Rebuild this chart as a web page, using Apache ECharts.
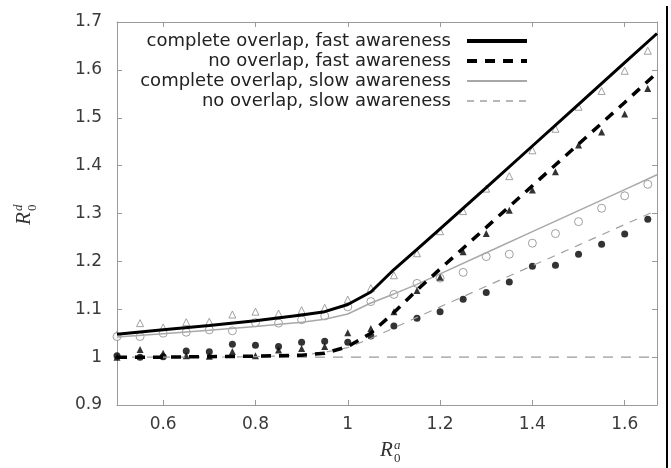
<!DOCTYPE html>
<html>
<head>
<meta charset="utf-8">
<script src="https://cdn.jsdelivr.net/npm/echarts@6/dist/echarts.min.js"></script>
<style>
  html, body { margin: 0; padding: 0; background: #fff; }
  #main { width: 671px; height: 468px; }
</style>
</head>
<body>
<div id="main"></div>
<script>
// simulation points (markers)
var markX = [0.5, 0.55, 0.6, 0.65, 0.7, 0.75, 0.8, 0.85, 0.9, 0.95, 1.0, 1.05,
             1.1, 1.15, 1.2, 1.25, 1.3, 1.35, 1.4, 1.45, 1.5, 1.55, 1.6, 1.65];
var triOpen = [1.047, 1.071, 1.062, 1.073, 1.074, 1.089, 1.095, 1.091, 1.098, 1.103, 1.12, 1.144,
               1.171, 1.217, 1.263, 1.305, 1.352, 1.378, 1.432, 1.477, 1.523, 1.556, 1.598, 1.640];
var circOpen = [1.043, 1.043, 1.050, 1.052, 1.057, 1.055, 1.072, 1.071, 1.078, 1.086, 1.105, 1.116,
                1.131, 1.154, 1.165, 1.177, 1.210, 1.215, 1.238, 1.258, 1.283, 1.311, 1.337, 1.361];
var triFill = [1.0, 1.016, 1.008, 1.003, 1.002, 1.012, 1.003, 1.015, 1.018, 1.022, 1.051, 1.06,
               1.095, 1.139, 1.167, 1.22, 1.258, 1.307, 1.349, 1.387, 1.443, 1.47, 1.508, 1.561];
var circFill = [1.003, 1.0, 1.001, 1.013, 1.011, 1.027, 1.025, 1.022, 1.031, 1.033, 1.031, 1.044,
                1.065, 1.081, 1.095, 1.121, 1.135, 1.157, 1.19, 1.192, 1.215, 1.236, 1.257, 1.288];

// model curves
var lineX = [0.5, 0.6, 0.7, 0.8, 0.9, 0.95, 1.0, 1.05, 1.1, 1.15, 1.2, 1.3, 1.4, 1.5, 1.6, 1.67];
var compFast = [1.048, 1.057, 1.066, 1.076, 1.088, 1.095, 1.11, 1.136, 1.183, 1.225, 1.268, 1.354, 1.441, 1.528, 1.615, 1.676];
var noFast   = [1.0, 1.0, 1.001, 1.002, 1.004, 1.008, 1.022, 1.05, 1.093, 1.14, 1.184, 1.271, 1.358, 1.445, 1.532, 1.594];
var compSlow = [1.042, 1.049, 1.056, 1.064, 1.073, 1.079, 1.09, 1.113, 1.132, 1.152, 1.174, 1.218, 1.262, 1.306, 1.35, 1.381];
var noSlow   = [1.0, 1.0, 1.0, 1.001, 1.004, 1.01, 1.02, 1.039, 1.061, 1.083, 1.105, 1.148, 1.191, 1.234, 1.277, 1.307];

var refX = [0.5, 1.67];
var refY = [1, 1];

var names = ['complete overlap, fast awareness', 'no overlap, fast awareness',
             'complete overlap, slow awareness', 'no overlap, slow awareness'];

function pairs(xs, ys) {
    return xs.map(function (x, i) { return [x, ys[i]]; });
}

var myChart = echarts.init(document.getElementById('main'));

var axisCol = '#9a9a9a';
var lblStyle = { fontFamily: 'DejaVu Sans', fontSize: 17, color: '#3a3a3a' };

function xAx(pos, showLabel) {
    return {
        type: 'value', position: pos, min: 0.5, max: 1.67,
        minInterval: 0.2, maxInterval: 0.2,
        axisLine: { show: true, onZero: false, lineStyle: { color: axisCol, width: 1 } },
        axisTick: { show: true, inside: true, length: 5, lineStyle: { color: axisCol } },
        axisLabel: Object.assign({ show: showLabel, margin: 11, showMinLabel: false, showMaxLabel: false }, lblStyle),
        splitLine: { show: false }
    };
}
function yAx(pos, showLabel) {
    return {
        type: 'value', position: pos, min: 0.9, max: 1.7, interval: 0.1,
        axisLine: { show: true, onZero: false, lineStyle: { color: axisCol, width: 1 } },
        axisTick: { show: true, inside: true, length: 5, lineStyle: { color: axisCol } },
        axisLabel: Object.assign({ show: showLabel, margin: 15 }, lblStyle),
        splitLine: { show: false }
    };
}

var option = {
    animation: false,
    backgroundColor: '#fff',
    grid: { left: 117, right: 14, top: 22, bottom: 63 },
    xAxis: [xAx('bottom', true), xAx('top', false)],
    yAxis: [yAx('left', true), yAx('right', false)],
    legend: {
        data: [
            { name: names[0], lineStyle: { width: 4 } },
            { name: names[1], lineStyle: { width: 4, type: [10, 8] } },
            { name: names[2], lineStyle: { width: 2 } },
            { name: names[3], lineStyle: { width: 1.3, type: [7, 6] } }
        ],
        orient: 'vertical',
        align: 'right',
        right: 137,
        top: 27,
        itemWidth: 60,
        itemHeight: 14,
        itemGap: 2,
        itemStyle: { opacity: 0 },
        textStyle: { fontFamily: 'DejaVu Sans', fontSize: 18, color: '#222', lineHeight: 18, padding: [0, 11, 0, 0] }
    },
    series: [
        { name: 'ref', type: 'line', data: pairs(refX, refY), symbol: 'none', silent: true,
          lineStyle: { color: '#999', width: 1.3, type: [10, 8] } },
        { name: 'triOpen', type: 'scatter', data: pairs(markX, triOpen), symbol: 'triangle', symbolSize: 7,
          itemStyle: { color: '#fff', borderColor: '#8a8a8a', borderWidth: 1 } },
        { name: 'circOpen', type: 'scatter', data: pairs(markX, circOpen), symbol: 'circle', symbolSize: 8,
          itemStyle: { color: '#fff', borderColor: '#8a8a8a', borderWidth: 1 } },
        { name: names[2], type: 'line', data: pairs(lineX, compSlow), symbol: 'none',
          lineStyle: { color: '#a8a8a8', width: 1.5 }, itemStyle: { color: '#a8a8a8' } },
        { name: names[3], type: 'line', data: pairs(lineX, noSlow), symbol: 'none',
          lineStyle: { color: '#a0a0a0', width: 1.2, type: [8, 7] }, itemStyle: { color: '#a0a0a0' } },
        { name: 'triFill', type: 'scatter', data: pairs(markX, triFill), symbol: 'triangle', symbolSize: 7,
          itemStyle: { color: '#000' } },
        { name: 'circFill', type: 'scatter', data: pairs(markX, circFill), symbol: 'circle', symbolSize: 7,
          itemStyle: { color: '#000' } },
        { name: names[0], type: 'line', data: pairs(lineX, compFast), symbol: 'none',
          lineStyle: { color: '#000', width: 3 }, itemStyle: { color: '#000' } },
        { name: names[1], type: 'line', data: pairs(lineX, noFast), symbol: 'none',
          lineStyle: { color: '#000', width: 3.5, type: [10, 8] }, itemStyle: { color: '#000' } }
    ],
    graphic: [
        { type: 'rect', shape: { x: 666, y: 6, width: 2, height: 462 }, style: { fill: '#000' } },
        { type: 'group', x: 380, y: 440, children: [
            { type: 'text', x: 0, y: 0, style: { text: 'R', fontFamily: 'Liberation Serif', fontStyle: 'italic', fontSize: 21, fill: '#333', verticalAlign: 'top' } },
            { type: 'text', x: 14, y: -1, style: { text: 'a', fontFamily: 'Liberation Serif', fontStyle: 'italic', fontSize: 13, fill: '#333', verticalAlign: 'top' } },
            { type: 'text', x: 14, y: 12, style: { text: '0', fontFamily: 'Liberation Serif', fontSize: 13, fill: '#333', verticalAlign: 'top' } }
        ] },
        { type: 'group', x: 14, y: 225, rotation: Math.PI / 2, children: [
            { type: 'text', x: 0, y: 0, style: { text: 'R', fontFamily: 'Liberation Serif', fontStyle: 'italic', fontSize: 21, fill: '#333', verticalAlign: 'top' } },
            { type: 'text', x: 14, y: -2, style: { text: 'd', fontFamily: 'Liberation Serif', fontStyle: 'italic', fontSize: 13, fill: '#333', verticalAlign: 'top' } },
            { type: 'text', x: 14, y: 12, style: { text: '0', fontFamily: 'Liberation Serif', fontSize: 13, fill: '#333', verticalAlign: 'top' } }
        ] }
    ]
};
myChart.setOption(option);
</script>
</body>
</html>
